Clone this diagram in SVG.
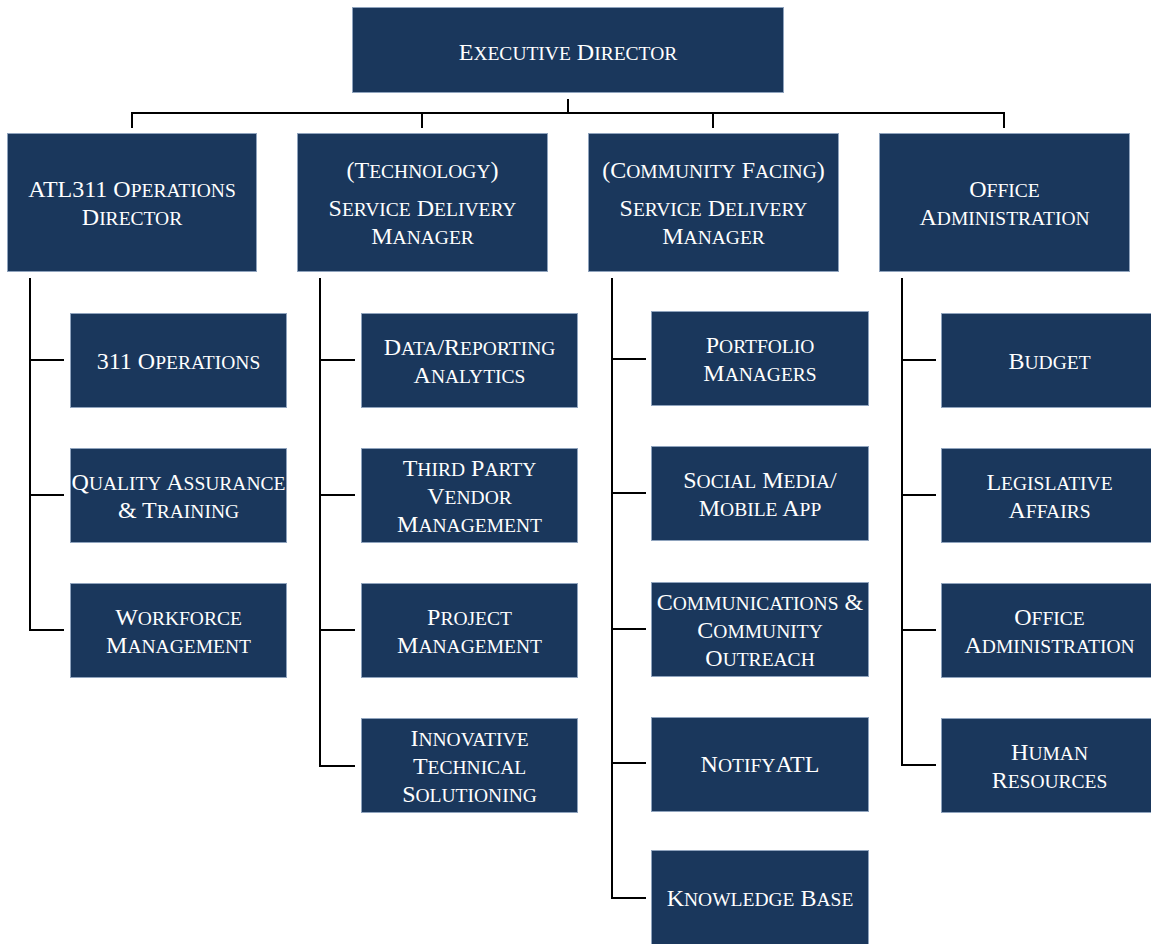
<svg xmlns="http://www.w3.org/2000/svg" width="1151" height="944" viewBox="0 0 1151 944">
<style>
  .box { fill: #1a375c; stroke: #8fa3bd; stroke-width: 1; }
  text { font-family: "Liberation Serif", "Times New Roman", serif; font-size: 24px; fill: #ffffff; text-anchor: middle; }
  .s { font-size: 19.5px; }
  .ln { stroke: #000000; stroke-width: 2; fill: none; }
</style>
<rect x="0" y="0" width="1151" height="944" fill="#ffffff"/>

<g id="connectors">
  <path class="ln" d="M568,99 V113 M131,113 H1005 M132,113 V128 M422,113 V128 M713,113 V128 M1004,113 V128"/>
  <path class="ln" d="M30,278 V630 H64 M30,360 H64 M30,495 H64"/>
  <path class="ln" d="M320,278 V766 H355 M320,360 H355 M320,495 H355 M320,630 H355"/>
  <path class="ln" d="M612,278 V898 H646 M612,359 H646 M612,493 H646 M612,629 H646 M612,763 H646"/>
  <path class="ln" d="M902,278 V765 H936 M902,360 H936 M902,495 H936 M902,630 H936"/>
</g>

<g id="executive-director">
  <rect class="box" x="352.5" y="7.5" width="431" height="85"/>
  <text x="568" y="60">E<tspan class="s">XECUTIVE</tspan> D<tspan class="s">IRECTOR</tspan></text>
</g>

<g id="atl311-operations-director">
  <rect class="box" x="7.5" y="133.5" width="249" height="138"/>
  <text x="132" y="197">ATL311 O<tspan class="s">PERATIONS</tspan></text>
  <text x="132" y="225">D<tspan class="s">IRECTOR</tspan></text>
</g>

<g id="technology-sdm">
  <rect class="box" x="297.5" y="133.5" width="250" height="138"/>
  <text x="422.5" y="178">(T<tspan class="s">ECHNOLOGY</tspan>)</text>
  <text x="422.5" y="216">S<tspan class="s">ERVICE</tspan> D<tspan class="s">ELIVERY</tspan></text>
  <text x="422.5" y="244">M<tspan class="s">ANAGER</tspan></text>
</g>

<g id="community-sdm">
  <rect class="box" x="588.5" y="133.5" width="250" height="138"/>
  <text x="713.5" y="178">(C<tspan class="s">OMMUNITY</tspan> F<tspan class="s">ACING</tspan>)</text>
  <text x="713.5" y="216">S<tspan class="s">ERVICE</tspan> D<tspan class="s">ELIVERY</tspan></text>
  <text x="713.5" y="244">M<tspan class="s">ANAGER</tspan></text>
</g>

<g id="office-administration-head">
  <rect class="box" x="879.5" y="133.5" width="250" height="138"/>
  <text x="1004.5" y="197">O<tspan class="s">FFICE</tspan></text>
  <text x="1004.5" y="225">A<tspan class="s">DMINISTRATION</tspan></text>
</g>

<!-- Column 1 -->
<g id="311-operations">
  <rect class="box" x="70.5" y="313.5" width="216" height="94"/>
  <text x="178.5" y="368.5">311 O<tspan class="s">PERATIONS</tspan></text>
</g>
<g id="quality-assurance">
  <rect class="box" x="70.5" y="448.5" width="216" height="94"/>
  <text x="178.5" y="490">Q<tspan class="s">UALITY</tspan> A<tspan class="s">SSURANCE</tspan></text>
  <text x="178.5" y="518">&amp; T<tspan class="s">RAINING</tspan></text>
</g>
<g id="workforce-management">
  <rect class="box" x="70.5" y="583.5" width="216" height="94"/>
  <text x="178.5" y="625">W<tspan class="s">ORKFORCE</tspan></text>
  <text x="178.5" y="653">M<tspan class="s">ANAGEMENT</tspan></text>
</g>

<!-- Column 2 -->
<g id="data-reporting">
  <rect class="box" x="361.5" y="313.5" width="216" height="94"/>
  <text x="469.5" y="355">D<tspan class="s">ATA</tspan>/R<tspan class="s">EPORTING</tspan></text>
  <text x="469.5" y="383">A<tspan class="s">NALYTICS</tspan></text>
</g>
<g id="third-party-vendor">
  <rect class="box" x="361.5" y="448.5" width="216" height="94"/>
  <text x="469.5" y="476">T<tspan class="s">HIRD</tspan> P<tspan class="s">ARTY</tspan></text>
  <text x="469.5" y="504">V<tspan class="s">ENDOR</tspan></text>
  <text x="469.5" y="532">M<tspan class="s">ANAGEMENT</tspan></text>
</g>
<g id="project-management">
  <rect class="box" x="361.5" y="583.5" width="216" height="94"/>
  <text x="469.5" y="625">P<tspan class="s">ROJECT</tspan></text>
  <text x="469.5" y="653">M<tspan class="s">ANAGEMENT</tspan></text>
</g>
<g id="innovative-technical">
  <rect class="box" x="361.5" y="718.5" width="216" height="94"/>
  <text x="469.5" y="745.5">I<tspan class="s">NNOVATIVE</tspan></text>
  <text x="469.5" y="773.5">T<tspan class="s">ECHNICAL</tspan></text>
  <text x="469.5" y="801.5">S<tspan class="s">OLUTIONING</tspan></text>
</g>

<!-- Column 3 -->
<g id="portfolio-managers">
  <rect class="box" x="651.5" y="311.5" width="217" height="94"/>
  <text x="760" y="353">P<tspan class="s">ORTFOLIO</tspan></text>
  <text x="760" y="381">M<tspan class="s">ANAGERS</tspan></text>
</g>
<g id="social-media">
  <rect class="box" x="651.5" y="446.5" width="217" height="94"/>
  <text x="760" y="488">S<tspan class="s">OCIAL</tspan> M<tspan class="s">EDIA</tspan>/</text>
  <text x="760" y="516">M<tspan class="s">OBILE</tspan> A<tspan class="s">PP</tspan></text>
</g>
<g id="communications-outreach">
  <rect class="box" x="651.5" y="582.5" width="217" height="94"/>
  <text x="760" y="609.5">C<tspan class="s">OMMUNICATIONS</tspan> &amp;</text>
  <text x="760" y="637.5">C<tspan class="s">OMMUNITY</tspan></text>
  <text x="760" y="665.5">O<tspan class="s">UTREACH</tspan></text>
</g>
<g id="notifyatl">
  <rect class="box" x="651.5" y="717.5" width="217" height="94"/>
  <text x="760" y="772">N<tspan class="s">OTIFY</tspan>ATL</text>
</g>
<g id="knowledge-base">
  <rect class="box" x="651.5" y="850.5" width="217" height="96"/>
  <text x="760" y="905.5">K<tspan class="s">NOWLEDGE</tspan> B<tspan class="s">ASE</tspan></text>
</g>

<!-- Column 4 -->
<g id="budget">
  <rect class="box" x="941.5" y="313.5" width="216" height="94"/>
  <text x="1049.5" y="368.5">B<tspan class="s">UDGET</tspan></text>
</g>
<g id="legislative-affairs">
  <rect class="box" x="941.5" y="448.5" width="216" height="94"/>
  <text x="1049.5" y="490">L<tspan class="s">EGISLATIVE</tspan></text>
  <text x="1049.5" y="518">A<tspan class="s">FFAIRS</tspan></text>
</g>
<g id="office-administration">
  <rect class="box" x="941.5" y="583.5" width="216" height="94"/>
  <text x="1049.5" y="625">O<tspan class="s">FFICE</tspan></text>
  <text x="1049.5" y="653">A<tspan class="s">DMINISTRATION</tspan></text>
</g>
<g id="human-resources">
  <rect class="box" x="941.5" y="718.5" width="216" height="94"/>
  <text x="1049.5" y="760">H<tspan class="s">UMAN</tspan></text>
  <text x="1049.5" y="788">R<tspan class="s">ESOURCES</tspan></text>
</g>
</svg>
